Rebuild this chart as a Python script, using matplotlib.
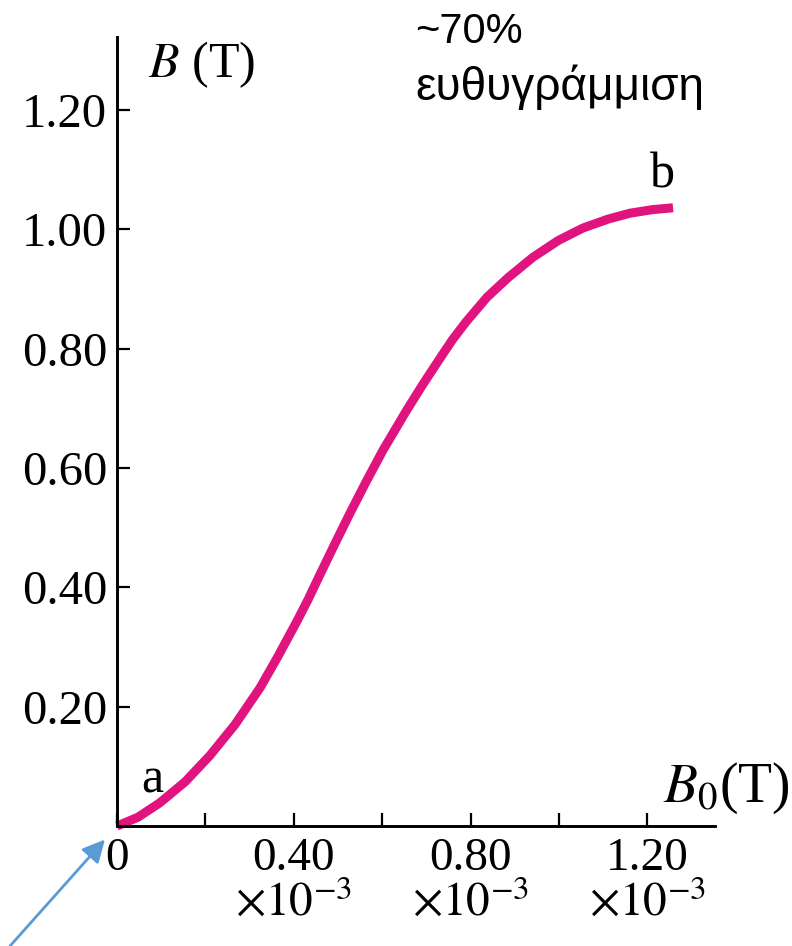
import matplotlib
matplotlib.use("Agg")
import matplotlib.pyplot as plt

# curve, B0 in units of 1e-3 T
b0_vals = [0, 0.048, 0.097, 0.154, 0.210, 0.267, 0.324, 0.364, 0.407, 0.432,
           0.459, 0.493, 0.527, 0.563, 0.602, 0.654, 0.692, 0.731, 0.760,
           0.790, 0.837, 0.885, 0.941, 0.998, 1.054, 1.111, 1.161, 1.213,
           1.258]
b_vals = [0, 0.015, 0.039, 0.074, 0.118, 0.170, 0.232, 0.284, 0.343, 0.379,
          0.421, 0.473, 0.524, 0.576, 0.630, 0.695, 0.740, 0.784, 0.816,
          0.845, 0.886, 0.919, 0.953, 0.981, 1.002, 1.017, 1.027, 1.033,
          1.036]

x_major = [0, 0.40, 0.80, 1.20]
x_minor = [0.20, 0.60, 1.00]
x_labels = ["0"] + [f"{v:.2f}\n" + r"$\times10^{-3}$" for v in x_major[1:]]
y_ticks = [0.20, 0.40, 0.60, 0.80, 1.00, 1.20]
y_labels = [f"{v:.2f}" for v in y_ticks]

plt.rcParams["font.family"] = "Liberation Serif"
plt.rcParams["mathtext.fontset"] = "stix"

fig = plt.figure(figsize=(7.92, 9.46), dpi=100)
ax = fig.add_axes([0.1477, 0.1268, 0.7551, 0.834])

ax.plot(b0_vals, b_vals, color="#E1147F", lw=6.5, solid_capstyle="butt",
        solid_joinstyle="round", clip_on=False, zorder=3)

ax.set_xlim(0, 1.353)
ax.set_ylim(0, 1.322)
for s in ["top", "right"]:
    ax.spines[s].set_visible(False)
for s in ["left", "bottom"]:
    ax.spines[s].set_linewidth(2.1)
    ax.spines[s].set_zorder(4)

ax.set_xticks(x_major, x_labels)
ax.set_xticks(x_minor, minor=True)
ax.set_yticks(y_ticks, y_labels)
ax.tick_params(which="both", direction="in", length=9.5, width=1.6)
ax.tick_params(axis="x", labelsize=34, pad=8)
ax.tick_params(axis="y", labelsize=35, pad=7)
for lab in ax.get_xticklabels():
    lab.set_linespacing(1.05)

ax.text(0.07, 1.255, r"$B$ (T)", fontsize=36, ha="left", va="baseline")
ax.text(1.235, 0.040, r"$B_0$(T)", fontsize=40, ha="left", va="baseline")
ax.text(0.079, 0.077, "a", fontsize=36, ha="center", va="center")
ax.text(1.233, 1.09, "b", fontsize=36, ha="center", va="center")

fig.text(0.524, 1 - 43 / 946, "~70%", fontsize=30, family="Liberation Sans",
         ha="left", va="baseline")
fig.text(0.524, 1 - 100 / 946, "ευθυγράμμιση", fontsize=33,
         family="Liberation Sans", ha="left", va="baseline")

ax.annotate("", xy=(0, 0), xytext=(-107, -120), textcoords="offset pixels",
            annotation_clip=False,
            arrowprops=dict(arrowstyle="-|>", color="#5B9BD5", lw=2,
                            shrinkA=0, shrinkB=13, mutation_scale=34))

fig.savefig("out.png", dpi=100)
